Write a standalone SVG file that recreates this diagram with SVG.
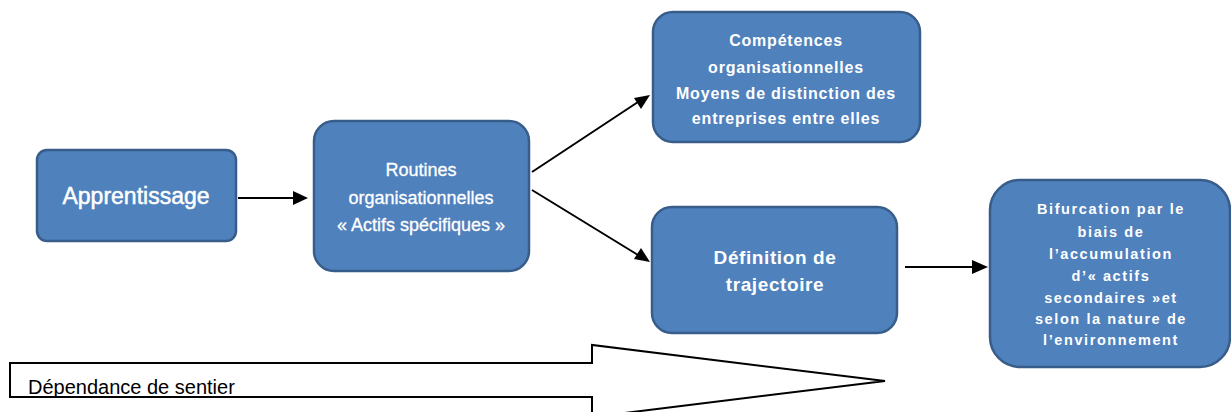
<svg xmlns="http://www.w3.org/2000/svg" width="1231" height="412" viewBox="0 0 1231 412">
<style>
.box{fill:#4F81BD;stroke:#385D8A;stroke-width:2.5}
.t{fill:#ffffff;font-family:"Liberation Sans",Arial,sans-serif;text-anchor:middle}
.b{font-weight:bold}
</style>
<rect width="1231" height="412" fill="#fff"/>
<g id="connectors">
<line x1="238" y1="198" x2="295" y2="198" stroke="#000" stroke-width="2"/>
<path d="M308,198 L293,191 L293,205 z" fill="#000"/>
<line x1="532" y1="172" x2="638" y2="102" stroke="#000" stroke-width="2"/>
<path d="M650,95 L641,109 L634,98 z" fill="#000"/>
<line x1="532" y1="190" x2="638" y2="255" stroke="#000" stroke-width="2"/>
<path d="M650,262 L634,259 L641,248 z" fill="#000"/>
<line x1="905" y1="267" x2="973" y2="267" stroke="#000" stroke-width="2"/>
<path d="M988,267 L972,260 L972,274 z" fill="#000"/>
</g>
<g id="n-apprentissage">
<rect class="box" x="37" y="150" width="199" height="91" rx="10"/>
<text class="t" x="136" y="204" font-size="23" stroke="#fff" stroke-width="0.5">Apprentissage</text>
</g>
<g id="n-routines">
<rect class="box" x="314" y="121" width="215" height="150" rx="20"/>
<text class="t" font-size="18" stroke="#fff" stroke-width="0.3"><tspan x="421" y="176">Routines</tspan><tspan x="421" y="204">organisationnelles</tspan><tspan x="421" y="231">« Actifs spécifiques »</tspan></text>
</g>
<g id="n-competences">
<rect class="box" x="653" y="12" width="267" height="130" rx="20"/>
<text class="t b" font-size="16" letter-spacing="0.8"><tspan x="786" y="46">Compétences</tspan><tspan x="786" y="73">organisationnelles</tspan><tspan x="786" y="99">Moyens de distinction des</tspan><tspan x="786" y="124">entreprises entre elles</tspan></text>
</g>
<g id="n-definition">
<rect class="box" x="652" y="207" width="245" height="126" rx="20"/>
<text class="t b" font-size="19" letter-spacing="0.6"><tspan x="775" y="264">Définition de</tspan><tspan x="775" y="291">trajectoire</tspan></text>
</g>
<g id="n-bifurcation">
<rect class="box" x="990" y="180" width="240" height="187" rx="30"/>
<text class="t b" font-size="14.5" letter-spacing="1.6"><tspan x="1111" y="214">Bifurcation par le</tspan><tspan x="1111" y="237">biais de</tspan><tspan x="1111" y="259">l’accumulation</tspan><tspan x="1111" y="281">d’« actifs</tspan><tspan x="1111" y="303">secondaires »et</tspan><tspan x="1111" y="324">selon la nature de</tspan><tspan x="1111" y="345">l’environnement</tspan></text>
</g>
<g id="n-dependance">
<path d="M10,363 L592,363 L592,345 L885,381 L592,417 L592,397 L10,397 Z" fill="#fff" stroke="#000" stroke-width="2"/>
<text x="28" y="394" font-family="'Liberation Sans',Arial,sans-serif" font-size="20" fill="#000">Dépendance de sentier</text>
</g>
</svg>
